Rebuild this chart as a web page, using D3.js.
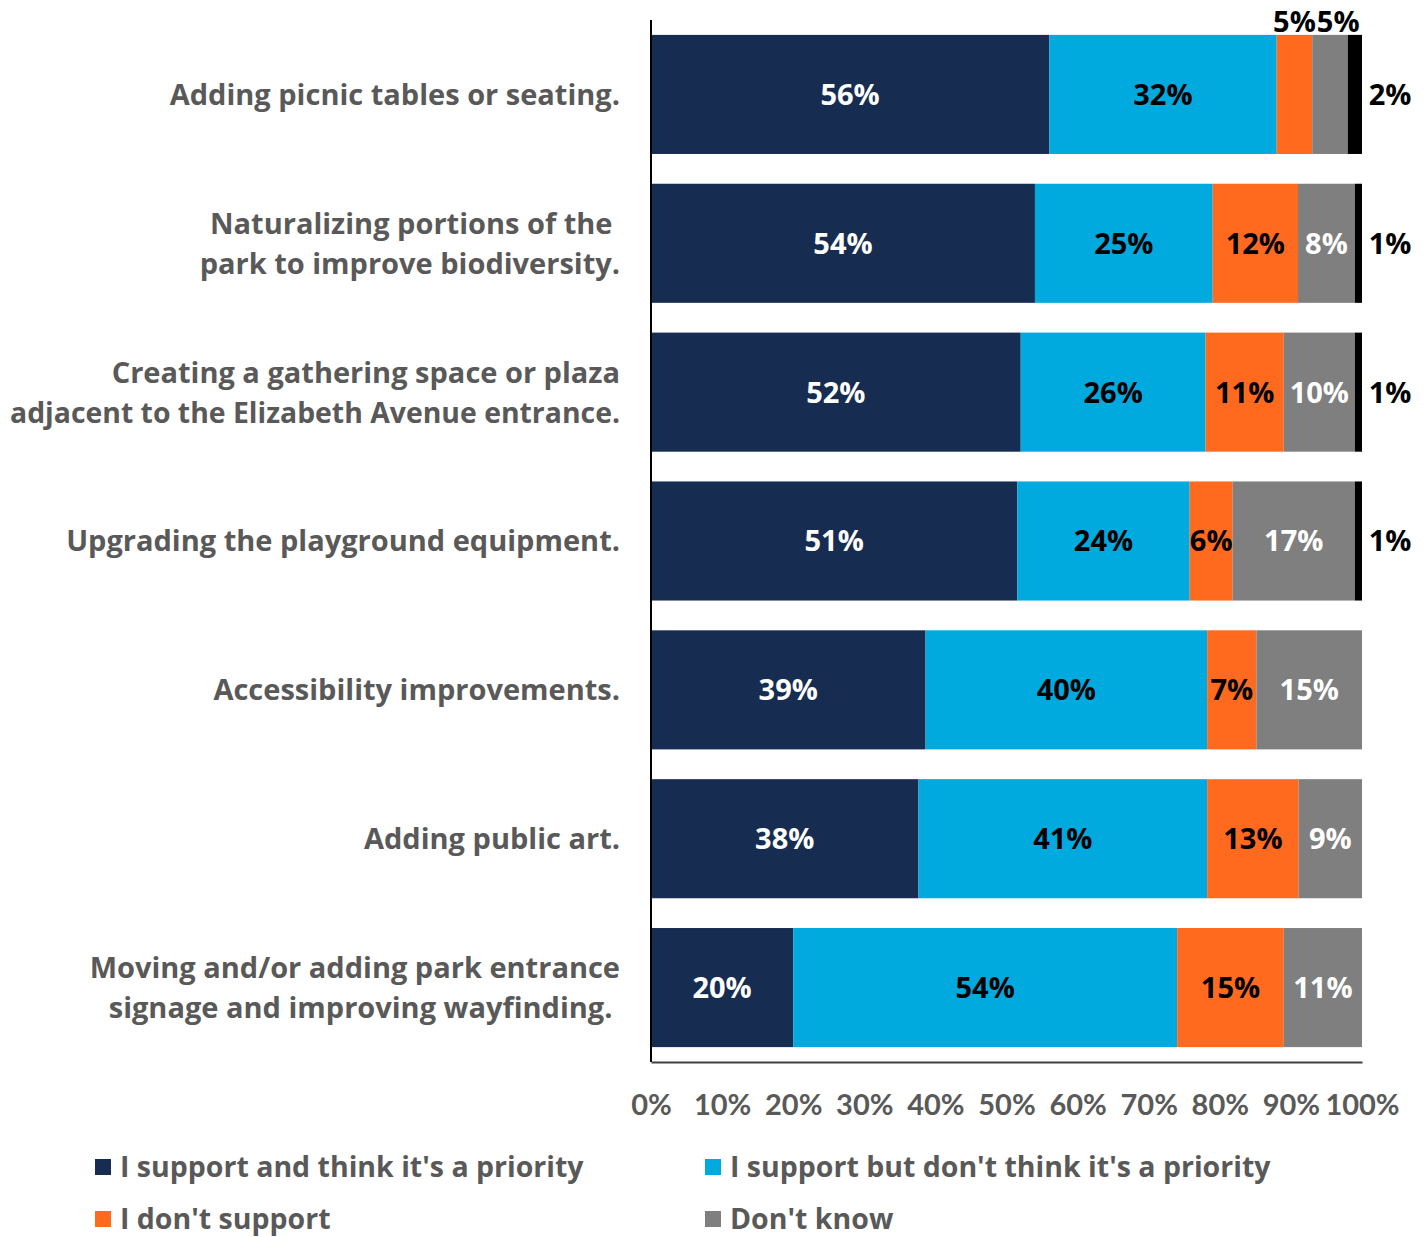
<!DOCTYPE html>
<html>
<head>
<meta charset="utf-8">
<script src="https://cdn.jsdelivr.net/npm/d3@7"></script>
<style>
  html, body { margin: 0; padding: 0; background: #fff; }
  svg { display: block; }
  text { font-family: "Open Sans", Lato, sans-serif; font-weight: 700; }
</style>
</head>
<body>
<svg id="chart" width="1427" height="1237"></svg>
<script>
// Survey items (line breaks as they appear in the axis labels)
const categories = [
  "Adding picnic tables or seating.",
  "Naturalizing portions of the \npark to improve biodiversity.",
  "Creating a gathering space or plaza\nadjacent to the Elizabeth Avenue entrance.",
  "Upgrading the playground equipment.",
  "Accessibility improvements.",
  "Adding public art.",
  "Moving and/or adding park entrance\nsignage and improving wayfinding. "
];

// Response shares (%) per item
const supportPriority    = [56, 54, 52, 51, 39, 38, 20];
const supportNotPriority = [32, 25, 26, 24, 40, 41, 54];
const dontSupport        = [5, 12, 11, 6, 7, 13, 15];
const dontKnow           = [5, 8, 10, 17, 15, 9, 11];
const noAnswer           = [2, 1, 1, 1, 0, 0, 0];

const seriesNames = [
  "I support and think it's a priority",
  "I support but don't think it's a priority",
  "I don't support",
  "Don't know",
  "No answer"
];
const tickValues = [0, 0.1, 0.2, 0.3, 0.4, 0.5, 0.6, 0.7, 0.8, 0.9, 1.0];
const tickLabels = ["0%", "10%", "20%", "30%", "40%", "50%", "60%", "70%", "80%", "90%", "100%"];

const colors = ["#172c51", "#00a9de", "#ff6a1f", "#7f7f7f", "#000000"];
const labelColors = ["#ffffff", "#000000", "#000000", "#ffffff", "#000000"];
const legendCount = 4;

const svg = d3.select("#chart");
const plotLeft = 651, plotRight = 1362, plotTop = 20, plotBottom = 1062;
const labelRight = 620, labelMaxWidth = 610;

// Build rows and normalize to a 100% stack
const seriesData = [supportPriority, supportNotPriority, dontSupport, dontKnow, noAnswer];
const rows = categories.map((c, i) => {
  const row = { category: c };
  seriesNames.forEach((s, k) => { row[s] = seriesData[k][i]; });
  return row;
});

const stack = d3.stack()
  .keys(seriesNames)
  .offset(d3.stackOffsetExpand);
const layers = stack(rows);

const x = d3.scaleLinear().domain([0, 1]).range([plotLeft, plotRight]);
const y = d3.scaleBand().domain(categories).range([plotTop, plotBottom])
  .paddingInner(0.2).paddingOuter(0.1);

// Bars
const g = svg.append("g");
layers.forEach((layer, k) => {
  g.selectAll(null)
    .data(layer.filter(d => d.data[layer.key] > 0))
    .join("rect")
    .attr("x", d => x(d[0]))
    .attr("y", d => y(d.data.category))
    .attr("width", d => x(d[1]) - x(d[0]))
    .attr("height", y.bandwidth())
    .attr("fill", colors[k]);
});

// Segment value labels
const labelSize = 29;
const aboveRight = {};   // right edge of the last label placed above each bar
layers.forEach((layer, k) => {
  layer.forEach(d => {
    const v = d.data[layer.key];
    if (!v) return;
    const cat = d.data.category;
    const w = x(d[1]) - x(d[0]);
    const cy = y(cat) + y.bandwidth() / 2;
    let tx = (x(d[0]) + x(d[1])) / 2, ty = cy, fill = labelColors[k];
    let above = false;
    if (k === seriesNames.length - 1) {
      // thin trailing segment: label sits right of the bar
      tx = plotRight + 28; fill = "#000";
    } else if (w < 40) {
      // too narrow: label above the bar
      ty = y(cat) - 13; fill = "#000"; above = true;
    }
    const t = svg.append("text")
      .attr("x", tx)
      .attr("y", ty)
      .attr("dy", "0.36em")
      .attr("text-anchor", "middle")
      .attr("font-size", labelSize)
      .attr("fill", fill)
      .text(v + "%");
    if (above) {
      // nudge right so neighbouring labels above a bar do not collide
      const bw = t.node().getComputedTextLength();
      const prev = aboveRight[cat];
      if (prev !== undefined && tx - bw / 2 < prev + 1) {
        tx = prev + 1 + bw / 2;
        t.attr("x", tx);
      }
      aboveRight[cat] = tx + bw / 2;
    }
  });
});

// Axis lines
svg.append("line")
  .attr("x1", plotLeft).attr("x2", plotLeft).attr("y1", plotTop).attr("y2", plotBottom)
  .attr("stroke", "#000").attr("stroke-width", 2);

const xAxis = d3.axisBottom(x)
  .tickValues(tickValues)
  .tickFormat((d, i) => tickLabels[i])
  .tickSize(0)
  .tickPadding(32);
const ax = svg.append("g")
  .attr("transform", `translate(0,${plotBottom})`)
  .call(xAxis);
ax.select(".domain").attr("stroke", "#404040").attr("stroke-width", 2);
ax.selectAll("text")
  .attr("font-size", 29)
  .attr("fill", "#595959")
  .style("font-family", "Lato, sans-serif")
  .style("font-weight", 700);

// Category labels, one text per line; over-long lines are fitted to the margin
categories.forEach(c => {
  const lines = c.split("\n");
  const cy = y(c) + y.bandwidth() / 2;
  lines.forEach((ln, i) => {
    const t = svg.append("text")
      .attr("x", labelRight)
      .attr("y", cy + (i - (lines.length - 1) / 2) * 40)
      .attr("dy", "0.36em")
      .attr("text-anchor", "end")
      .attr("font-size", 29)
      .attr("fill", "#595959")
      .style("white-space", "pre")
      .text(ln);
    if (t.node().getComputedTextLength() > labelMaxWidth) {
      t.attr("textLength", labelMaxWidth).attr("lengthAdjust", "spacingAndGlyphs");
    }
  });
});

// Legend
const legendPos = [[95, 1167], [705, 1167], [95, 1219], [705, 1219]];
seriesNames.slice(0, legendCount).forEach((name, k) => {
  const [lx, ly] = legendPos[k];
  svg.append("rect")
    .attr("x", lx).attr("y", ly - 8)
    .attr("width", 16).attr("height", 16)
    .attr("fill", colors[k]);
  svg.append("text")
    .attr("x", lx + 25).attr("y", ly)
    .attr("dy", "0.36em")
    .attr("font-size", 28.5)
    .attr("fill", "#595959")
    .text(name);
});
</script>
</body>
</html>
